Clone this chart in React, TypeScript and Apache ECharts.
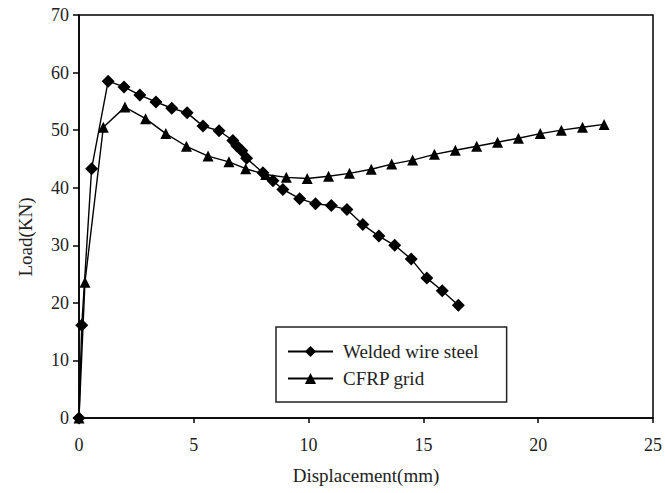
import React, { useEffect, useRef } from "react";
import * as echarts from "echarts";

const steelX = [0, 0.12, 0.55, 1.27, 1.96, 2.65, 3.35, 4.04, 4.71, 5.4, 6.1, 6.7, 6.87, 7.09, 7.3, 8.01, 8.45, 8.88, 9.61, 10.3, 10.99, 11.67, 12.36, 13.06, 13.75, 14.47, 15.15, 15.82, 16.52];
const steelY = [0, 16.1, 43.3, 58.5, 57.5, 56.1, 54.9, 53.8, 53.0, 50.7, 49.9, 48.2, 47.3, 46.4, 45.1, 42.6, 41.2, 39.7, 38.1, 37.2, 36.9, 36.2, 33.6, 31.6, 30.0, 27.6, 24.3, 22.1, 19.6];

const cfrpX = [0, 0.26, 1.06, 2.0, 2.9, 3.78, 4.68, 5.62, 6.53, 7.26, 8.13, 9.03, 9.94, 10.87, 11.78, 12.73, 13.62, 14.53, 15.48, 16.39, 17.32, 18.23, 19.14, 20.09, 21.01, 21.93, 22.87];
const cfrpY = [0, 23.6, 50.5, 54.0, 52.0, 49.4, 47.2, 45.5, 44.5, 43.3, 42.3, 41.8, 41.6, 42.0, 42.5, 43.2, 44.1, 44.8, 45.8, 46.5, 47.2, 47.9, 48.6, 49.4, 50.0, 50.5, 51.0];

const seriesNames = ["Welded wire steel", "CFRP grid"];
const xTitle = "Displacement(mm)";
const yTitle = "Load(KN)";

const FONT = "'Liberation Serif', 'Times New Roman', serif";
const TEXT = "#222";

export default function App() {
  const ref = useRef<HTMLDivElement>(null);
  useEffect(() => {
    const chart = echarts.init(ref.current!, null, { renderer: "svg" });
    const pair = (xs: number[], ys: number[]) => xs.map((x, i) => [x, ys[i]]);
    chart.setOption({
      animation: false,
      backgroundColor: "#fff",
      textStyle: { fontFamily: FONT, color: TEXT },
      grid: {
        left: 79,
        right: 11,
        top: 15,
        bottom: 75,
        show: true,
        borderColor: "#000",
        borderWidth: 1.5,
        containLabel: false,
      },
      legend: {
        orient: "vertical",
        left: 276,
        top: 327,
        padding: [15, 28, 14, 11],
        itemWidth: 45,
        itemHeight: 14,
        itemGap: 8,
        borderColor: "#222",
        borderWidth: 1.5,
        textStyle: { fontFamily: FONT, fontSize: 19, color: TEXT, padding: [0, 0, 0, 5] },
        data: seriesNames,
      },
      xAxis: {
        type: "value",
        min: 0,
        max: 25,
        interval: 5,
        name: xTitle,
        nameLocation: "middle",
        nameGap: 48,
        nameTextStyle: { fontFamily: FONT, fontSize: 19, color: TEXT },
        axisLine: { show: true, onZero: false, lineStyle: { color: "#000", width: 1.5 } },
        axisTick: { show: true, inside: false, length: 5, lineStyle: { color: "#000", width: 1.5 } },
        axisLabel: { margin: 18, fontFamily: FONT, fontSize: 18, color: TEXT },
        splitLine: { show: false },
      },
      yAxis: {
        type: "value",
        min: 0,
        max: 70,
        interval: 10,
        axisLine: { show: true, onZero: false, lineStyle: { color: "#000", width: 1.5 } },
        axisTick: { show: true, inside: false, length: 6, lineStyle: { color: "#000", width: 1.5 } },
        axisLabel: { margin: 10, fontFamily: FONT, fontSize: 18, color: TEXT },
        splitLine: { show: false },
      },
      graphic: [
        {
          type: "text",
          x: 25,
          y: 237,
          rotation: Math.PI / 2,
          style: {
            text: yTitle,
            fontFamily: FONT,
            fontSize: 19,
            fill: TEXT,
            textAlign: "center",
            textVerticalAlign: "middle",
          },
        },
      ],
      series: [
        {
          name: seriesNames[0],
          type: "line",
          data: pair(steelX, steelY),
          symbol: "diamond",
          symbolSize: 13,
          showAllSymbol: true,
          lineStyle: { color: "#000", width: 1.4 },
          itemStyle: { color: "#000" },
          z: 3,
        },
        {
          name: seriesNames[1],
          type: "line",
          data: pair(cfrpX, cfrpY),
          symbol: "triangle",
          symbolSize: 11,
          showAllSymbol: true,
          lineStyle: { color: "#000", width: 1.4 },
          itemStyle: { color: "#000" },
          z: 2,
        },
      ],
    });
    return () => chart.dispose();
  }, []);
  return (
    <div
      ref={ref}
      style={{ position: "fixed", left: 0, top: 0, width: 665, height: 493, background: "#fff" }}
    />
  );
}
